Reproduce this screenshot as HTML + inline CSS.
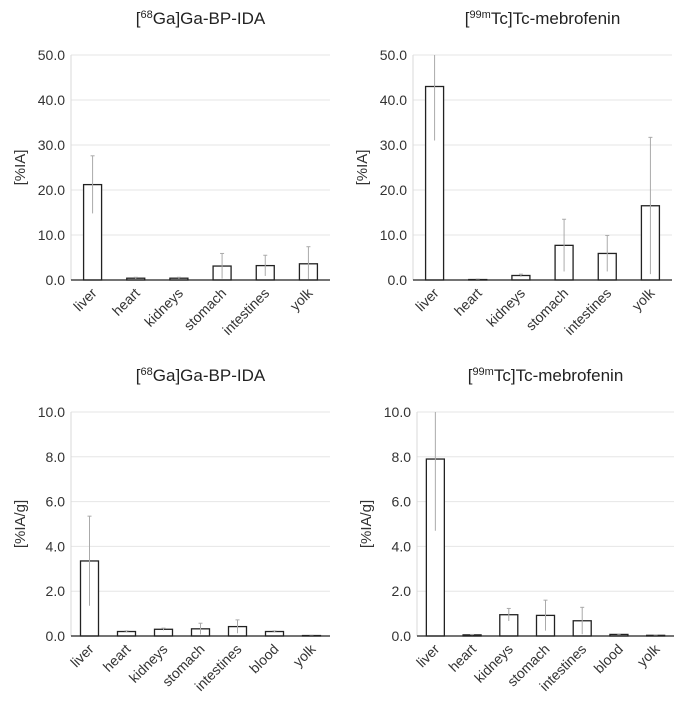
<!DOCTYPE html>
<html><head><meta charset="utf-8"><style>
body{margin:0;background:#fff;}
svg{display:block;font-family:"Liberation Sans",sans-serif;}
</style></head><body>
<svg id="c" width="685" height="703"></svg>
<script>
const catsA=["liver","heart","kidneys","stomach","intestines","yolk"];
const catsB=["liver","heart","kidneys","stomach","intestines","blood","yolk"];
const ticksA=["0.0","10.0","20.0","30.0","40.0","50.0"];
const ticksB=["0.0","2.0","4.0","6.0","8.0","10.0"];
const gaIA=[21.2,0.4,0.4,3.1,3.2,3.6];
const gaIAerr=[6.4,0.2,0.2,2.8,2.3,3.8];
const tcIA=[43.0,0.1,1.0,7.7,5.9,16.5];
const tcIAerr=[12.0,0.1,0.3,5.8,4.0,15.2];
const gaIAg=[3.35,0.2,0.3,0.32,0.42,0.2,0.02];
const gaIAgErr=[2.0,0.03,0.05,0.25,0.3,0.03,0.01];
const tcIAg=[7.9,0.05,0.95,0.92,0.68,0.07,0.03];
const tcIAgErr=[3.2,0.02,0.28,0.68,0.6,0.02,0.01];
const NS="http://www.w3.org/2000/svg";
const svg=document.getElementById('c');
function mk(tag,attrs,parent,txt){const e=document.createElementNS(NS,tag);for(const k in attrs)e.setAttribute(k,attrs[k]);if(txt!==undefined)e.textContent=txt;(parent||svg).appendChild(e);return e;}
function panel(o){
  const g=mk('g',{});
  
  
  const max=parseFloat(o.ticks[o.ticks.length-1]);
  const y=v=>o.y0-(Math.min(v,max)/max)*(o.y0-o.y1);
  const n=o.cats.length, step=(o.x1-o.x0)/n;
  const t=mk('text',{x:(o.x0+o.x1)/2,y:o.ty,'text-anchor':'middle','font-size':17,fill:'#222'},g);
  
  
  mk('tspan',{},t,'[');
  mk('tspan',{'font-size':11,dy:-6},t,o.sup);
  mk('tspan',{dy:6},t,o.rest);
  o.ticks.forEach((tk)=>{
    const v=parseFloat(tk), yy=y(v);
    if(v>0){const l=mk('line',{x1:o.x0,x2:o.x1,y1:yy,y2:yy,stroke:'#e6e6e6','stroke-width':1},g);
      
      }
    const tl=mk('text',{x:o.x0-6,y:yy+5,'text-anchor':'end','font-size':14,fill:'#333'},g,tk);
    
    
  });
  const at=mk('text',{x:0,y:0,'text-anchor':'middle','font-size':15,fill:'#333',transform:`translate(${o.x0-46},${(o.y0+o.y1)/2}) rotate(-90)`},g,o.ytitle);
  
  
  const ax=mk('line',{x1:o.x0,x2:o.x0,y1:o.y1,y2:o.y0,stroke:'#d9d9d9'},g);
  
  
  o.cats.forEach((c,i)=>{
    const cx=o.x0+step*(i+0.5), bw=18, v=o.vals[i], e=o.errs[i];
    const r=mk('rect',{x:cx-bw/2,y:y(v),width:bw,height:o.y0-y(v),fill:'#fff',stroke:'#222','stroke-width':1.3},g);
    
    
    const eb=mk('line',{x1:cx,x2:cx,y1:y(v+e),y2:y(Math.max(v-e,0)),stroke:'#aaa','stroke-width':1},g);
    
    
    if(v+e<max){mk('line',{x1:cx-2,x2:cx+2,y1:y(v+e),y2:y(v+e),stroke:'#aaa'},g);}
    const cl=mk('text',{x:0,y:0,'text-anchor':'end','font-size':14,fill:'#333',transform:`translate(${cx+5},${o.y0+14}) rotate(-45)`},g,c);
    
    
  });
  const xa=mk('line',{x1:o.x0,x2:o.x1,y1:o.y0,y2:o.y0,stroke:'#222','stroke-width':1.3},g);
  
  
}
panel({name:'panel-ga-ia',x0:71,x1:330,y0:280,y1:55,ty:24,sup:'68',rest:'Ga]Ga-BP-IDA',cats:catsA,vals:gaIA,errs:gaIAerr,ticks:ticksA,ytitle:'[%IA]'});
panel({name:'panel-tc-ia',x0:413,x1:672,y0:280,y1:55,ty:24,sup:'99m',rest:'Tc]Tc-mebrofenin',cats:catsA,vals:tcIA,errs:tcIAerr,ticks:ticksA,ytitle:'[%IA]'});
panel({name:'panel-ga-iag',x0:71,x1:330,y0:636,y1:412,ty:381,sup:'68',rest:'Ga]Ga-BP-IDA',cats:catsB,vals:gaIAg,errs:gaIAgErr,ticks:ticksB,ytitle:'[%IA/g]'});
panel({name:'panel-tc-iag',x0:417,x1:674,y0:636,y1:412,ty:381,sup:'99m',rest:'Tc]Tc-mebrofenin',cats:catsB,vals:tcIAg,errs:tcIAgErr,ticks:ticksB,ytitle:'[%IA/g]'});
</script>
</body></html>
